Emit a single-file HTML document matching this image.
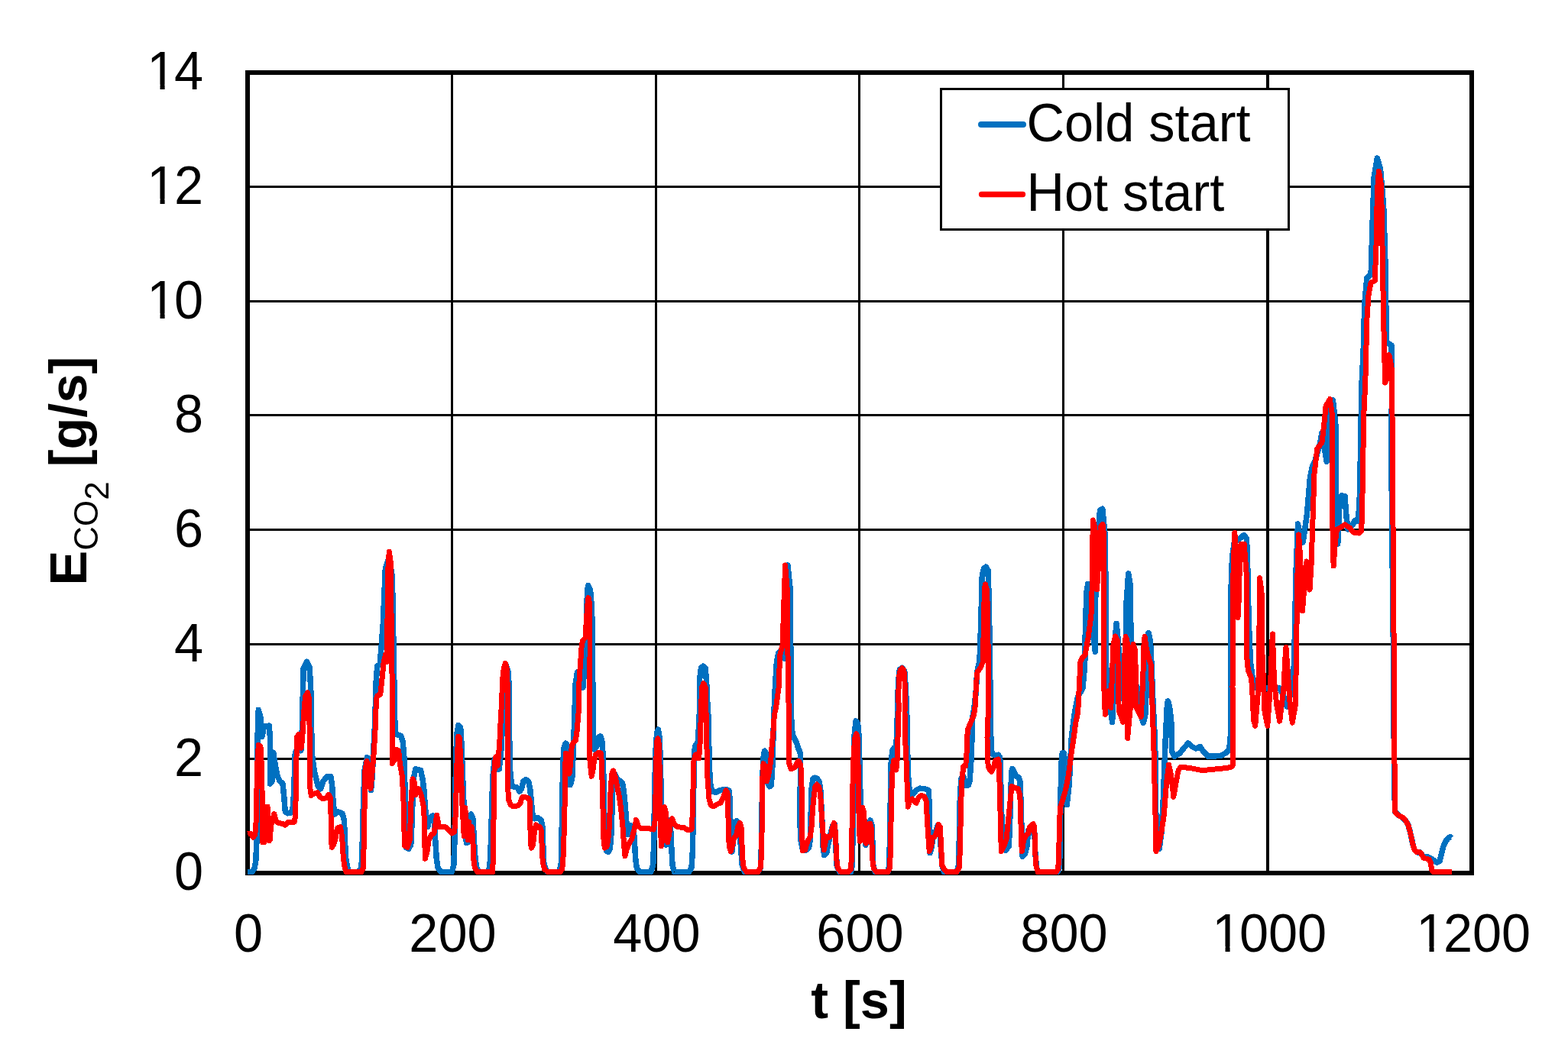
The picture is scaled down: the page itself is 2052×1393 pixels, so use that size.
<!DOCTYPE html>
<html><head><meta charset="utf-8"><title>CO2 emissions chart</title>
<style>html,body{margin:0;padding:0;background:#fff;overflow:hidden}svg{display:block}</style>
</head><body>
<svg width="2052" height="1393" viewBox="0 0 2052 1393"><rect width="2052" height="1393" fill="#fff"/><path d="M591.5,95.0 V1143.0 M858.5,95.0 V1143.0 M1124.5,95.0 V1143.0 M1391.5,95.0 V1143.0 M324.0,244.5 H1926.0 M324.0,394.5 H1926.0 M324.0,543.5 H1926.0 M324.0,693.5 H1926.0 M324.0,843.5 H1926.0 M324.0,993.5 H1926.0" stroke="#000" stroke-width="3" fill="none"/><path d="M1659,95.0 V1143.0" stroke="#000" stroke-width="4" fill="none"/><rect x="324.0" y="95.0" width="1602.0" height="1048.0" stroke="#000" stroke-width="6" fill="none"/><path d="M324.2,1141.5 L329.7,1141.5 L333.0,1136.8 L334.7,1127.7 L335.7,1107.7 L336.3,1082.7 L336.7,1049.3 L336.7,999.3 L337.0,966.0 L338.3,929.3 L341.0,939.3 L343.0,964.3 L345.5,951.0 L352.2,950.2 L353.5,966.0 L353.8,999.3 L353.5,1026.0 L356.0,1022.7 L357.7,985.2 L360.5,1002.7 L363.0,1016.0 L366.3,1022.7 L370.0,1026.0 L371.7,1042.7 L373.3,1062.7 L376.3,1064.8 L380.5,1064.0 L383.0,1059.3 L384.3,1042.7 L385.3,1016.0 L386.3,986.0 L389.7,979.3 L393.8,982.7 L395.0,966.0 L395.7,941.0 L396.0,921.7 L397.2,875.0 L401.3,866.3 L405.0,873.3 L406.7,900.0 L407.2,931.7 L407.7,957.7 L408.8,991.0 L411.3,1009.3 L416.3,1029.3 L419.7,1032.7 L423.0,1022.7 L428.0,1016.8 L433.0,1016.8 L434.7,1029.3 L436.3,1052.7 L438.0,1066.0 L442.2,1062.7 L448.0,1065.2 L450.5,1074.3 L451.3,1099.3 L453.0,1127.7 L456.3,1141.5 L468.0,1141.5 L472.2,1137.7 L473.8,1124.3 L474.7,1082.7 L475.5,1049.3 L477.2,1007.7 L480.5,991.8 L483.8,993.5 L485.5,1034.7 L487.2,1016.0 L488.8,982.7 L490.5,949.3 L491.3,924.3 L492.2,891.7 L493.8,871.7 L497.2,870.0 L498.8,850.0 L501.3,816.7 L503.0,775.0 L504.3,745.0 L508.0,733.3 L511.3,741.7 L513.3,755.0 L514.3,800.0 L515.0,850.0 L515.8,891.7 L516.3,932.2 L516.7,941.0 L517.2,961.0 L524.7,963.5 L527.2,971.0 L528.8,991.0 L529.7,1016.0 L530.0,1049.3 L530.0,1082.7 L531.0,1109.3 L534.7,1111.3 L537.7,1106.0 L538.8,1082.7 L540.0,1049.3 L541.3,1019.3 L543.8,1006.8 L550.5,1008.5 L553.0,1019.3 L554.7,1032.7 L557.2,1066.0 L559.7,1082.7 L562.2,1071.0 L566.3,1068.0 L568.8,1076.0 L569.7,1099.3 L571.3,1124.3 L573.0,1136.0 L577.2,1141.5 L591.3,1141.5 L593.8,1132.7 L595.0,1099.3 L595.7,1049.3 L596.7,991.0 L598.0,959.3 L600.0,949.3 L602.7,952.7 L604.0,974.3 L605.5,1016.0 L607.2,1057.7 L608.8,1091.0 L610.5,1103.5 L612.7,1102.7 L613.8,1074.3 L616.3,1066.0 L618.8,1071.0 L620.0,1091.0 L621.3,1116.0 L623.3,1134.3 L626.3,1141.5 L639.7,1141.5 L641.7,1124.3 L643.0,1082.7 L643.8,1049.3 L645.0,1016.0 L647.2,994.3 L650.5,1006.8 L650.5,1006.8 L653.3,1006.8 L655.8,982.7 L657.5,949.3 L658.7,926.0 L657.5,891.7 L661.3,868.7 L665.3,880.0 L666.2,900.0 L666.7,932.2 L666.7,966.0 L667.5,1007.7 L669.7,1029.3 L676.7,1031.0 L680.0,1036.0 L682.5,1032.7 L685.0,1022.7 L688.3,1020.7 L691.7,1023.5 L693.7,1032.7 L695.3,1049.3 L697.0,1066.0 L699.2,1071.8 L704.2,1070.7 L708.3,1074.3 L710.0,1082.7 L710.8,1107.7 L711.7,1129.3 L713.7,1137.7 L716.7,1141.5 L731.7,1141.5 L734.2,1132.7 L735.0,1099.3 L735.8,1049.3 L736.7,999.3 L738.3,977.7 L740.3,973.2 L742.5,976.0 L744.2,999.3 L746.3,1027.7 L748.7,1019.3 L750.0,991.0 L751.2,957.7 L752.2,926.0 L753.0,896.0 L755.5,880.0 L759.0,890.0 L763.0,900.0 L765.0,870.0 L766.5,850.0 L767.5,810.0 L768.5,775.0 L769.7,766.7 L772.5,772.0 L774.0,790.0 L775.0,812.0 L775.5,863.0 L776.2,940.0 L776.2,932.2 L776.3,966.0 L777.5,981.0 L780.8,977.7 L783.3,965.2 L785.8,964.0 L788.0,971.0 L789.3,991.0 L790.0,1024.3 L790.8,1066.0 L791.7,1099.3 L793.3,1113.5 L795.8,1115.5 L798.3,1111.0 L799.7,1096.0 L800.8,1066.0 L801.7,1032.7 L802.5,1011.0 L805.0,1014.3 L808.3,1021.0 L811.7,1022.3 L814.7,1026.0 L816.3,1036.0 L818.0,1052.7 L819.7,1074.3 L821.3,1092.7 L823.3,1091.0 L825.8,1081.0 L828.7,1082.7 L830.3,1099.3 L831.7,1124.3 L833.3,1136.0 L836.7,1141.5 L851.7,1141.5 L854.7,1132.7 L855.8,1099.3 L856.7,1032.7 L858.0,982.7 L859.7,959.3 L861.3,955.2 L863.3,966.0 L864.7,1016.0 L865.8,1066.0 L867.0,1086.0 L869.2,1101.0 L871.7,1106.0 L873.7,1104.3 L875.0,1082.7 L876.2,1073.5 L877.5,1082.7 L878.7,1107.7 L880.0,1132.7 L882.5,1141.5 L901.7,1141.5 L905.0,1136.0 L906.3,1116.0 L907.3,1066.0 L908.0,1016.0 L908.8,982.7 L910.3,975.7 L912.5,978.5 L913.7,966.0 L915.0,941.0 L915.8,924.3 L915.3,891.7 L917.5,874.2 L920.3,872.2 L923.3,875.0 L925.0,900.0 L926.3,932.2 L926.7,932.7 L927.5,966.0 L928.3,999.3 L929.3,1024.3 L931.7,1035.7 L936.7,1037.7 L941.7,1034.7 L950.0,1033.5 L954.2,1035.2 L955.3,1049.3 L956.0,1082.7 L956.7,1107.7 L958.0,1115.2 L959.7,1099.3 L961.3,1076.8 L964.2,1074.8 L966.7,1078.5 L968.3,1091.0 L969.7,1112.7 L971.3,1132.7 L974.2,1141.5 L992.0,1141.5 L992.0,1141.5 L995.3,1136.0 L996.2,1116.0 L997.0,1066.0 L997.8,1016.0 L999.5,986.0 L1000.8,983.2 L1002.3,986.0 L1003.3,999.3 L1005.0,1026.0 L1007.0,1029.7 L1009.0,1028.5 L1010.3,1016.0 L1011.3,991.0 L1012.0,960.0 L1013.8,909.7 L1016.4,866.6 L1019.0,854.5 L1023.0,852.0 L1026.8,862.0 L1028.5,800.0 L1029.0,745.0 L1031.0,740.0 L1034.0,770.0 L1034.8,850.0 L1035.0,940.0 L1035.7,941.0 L1037.0,961.0 L1039.5,966.5 L1042.3,971.8 L1045.0,980.2 L1047.3,986.0 L1047.8,1007.7 L1047.0,1041.0 L1046.7,1074.3 L1048.3,1102.7 L1050.7,1113.0 L1055.3,1113.0 L1058.7,1109.3 L1060.3,1099.3 L1061.2,1066.0 L1062.0,1032.7 L1064.0,1019.3 L1066.2,1018.2 L1069.5,1019.3 L1072.0,1023.5 L1073.7,1032.7 L1075.0,1057.7 L1076.2,1082.7 L1077.0,1107.7 L1078.7,1119.7 L1081.7,1116.8 L1083.7,1106.0 L1086.7,1092.7 L1089.5,1081.0 L1092.0,1078.5 L1093.3,1091.0 L1094.2,1116.0 L1095.3,1134.3 L1098.7,1141.5 L1113.7,1141.5 L1115.3,1132.7 L1116.2,1082.7 L1117.0,1016.0 L1117.8,966.0 L1120.0,944.0 L1122.5,946.8 L1123.7,957.7 L1124.5,982.7 L1125.3,1016.0 L1126.2,1049.3 L1127.3,1069.3 L1129.5,1076.0 L1131.5,1087.7 L1132.8,1106.3 L1135.0,1101.0 L1136.7,1079.3 L1139.0,1074.0 L1141.2,1081.0 L1142.0,1107.7 L1142.8,1132.7 L1145.3,1141.5 L1162.0,1141.5 L1163.7,1132.7 L1164.5,1099.3 L1165.3,1049.3 L1166.2,999.3 L1167.8,982.7 L1169.5,979.8 L1171.7,987.7 L1172.8,979.3 L1173.7,957.7 L1174.5,932.7 L1174.5,916.7 L1176.2,886.7 L1177.3,876.7 L1180.3,874.3 L1183.7,878.3 L1185.3,900.0 L1186.7,932.2 L1186.7,932.2 L1187.3,966.0 L1188.0,999.3 L1189.0,1024.3 L1191.2,1041.8 L1194.5,1040.2 L1198.7,1034.7 L1203.7,1032.2 L1210.3,1032.7 L1215.3,1034.7 L1216.2,1057.7 L1216.2,1091.0 L1217.0,1116.8 L1219.5,1107.7 L1221.2,1090.2 L1223.7,1092.7 L1227.0,1081.0 L1229.5,1082.7 L1231.2,1107.7 L1232.8,1132.7 L1235.3,1141.5 L1252.0,1141.5 L1254.5,1132.7 L1255.3,1099.3 L1256.2,1049.3 L1257.8,1019.3 L1260.7,1016.0 L1263.7,1028.0 L1267.3,1028.0 L1269.0,1022.7 L1270.7,999.3 L1272.0,966.0 L1272.8,939.3 L1274.0,931.8 L1275.3,922.7 L1277.0,908.3 L1278.7,880.0 L1282.0,865.0 L1283.7,816.7 L1285.3,753.3 L1287.8,743.7 L1290.3,742.2 L1293.0,746.7 L1294.2,783.3 L1295.0,833.3 L1295.7,883.3 L1296.2,932.2 L1296.2,932.2 L1296.5,957.7 L1297.5,982.7 L1299.5,987.7 L1302.8,989.3 L1306.2,988.2 L1308.7,991.8 L1309.5,1016.0 L1310.3,1049.3 L1311.2,1082.7 L1312.3,1107.7 L1316.2,1113.0 L1320.3,1107.7 L1322.0,1066.0 L1322.8,1032.7 L1324.0,1009.3 L1324.8,1006.5 L1327.3,1011.0 L1329.8,1016.0 L1333.2,1017.7 L1334.8,1022.7 L1335.7,1041.0 L1336.5,1066.0 L1337.3,1099.3 L1338.2,1121.3 L1341.5,1117.7 L1344.0,1107.7 L1345.7,1087.3 L1347.3,1091.0 L1351.5,1079.3 L1354.0,1091.0 L1354.8,1116.0 L1356.5,1136.0 L1359.0,1141.5 L1384.0,1141.5 L1386.5,1136.0 L1387.3,1099.3 L1388.2,1032.7 L1389.0,999.3 L1390.3,986.0 L1392.1,985.7 L1394.0,1000.0 L1395.7,1040.0 L1396.2,1053.7 L1399.3,1025.4 L1402.4,963.4 L1406.5,932.4 L1410.7,911.7 L1416.9,901.3 L1419.7,870.0 L1420.5,815.1 L1422.2,773.8 L1423.8,764.4 L1426.0,780.0 L1429.0,820.0 L1433.3,853.1 L1433.8,777.1 L1437.1,699.5 L1439.5,668.2 L1442.8,666.2 L1446.1,699.5 L1447.0,765.6 L1447.8,880.0 L1449.0,898.0 L1451.3,902.0 L1453.5,930.0 L1455.6,945.3 L1457.5,900.0 L1459.0,840.0 L1461.0,816.4 L1463.5,840.0 L1465.0,880.0 L1466.3,913.8 L1469.0,915.0 L1472.5,880.0 L1474.0,790.0 L1476.7,751.0 L1479.0,765.0 L1480.0,830.0 L1480.5,880.0 L1485.0,895.0 L1488.5,900.0 L1491.9,916.0 L1494.0,940.0 L1496.3,946.5 L1499.0,935.0 L1501.0,880.0 L1503.1,828.5 L1505.5,840.0 L1507.0,870.0 L1509.0,920.0 L1511.0,960.0 L1512.0,990.0 L1512.5,1050.0 L1513.5,1100.0 L1517.1,1111.6 L1520.0,1090.0 L1522.3,1046.1 L1525.4,963.4 L1527.5,922.0 L1528.5,917.9 L1530.5,925.0 L1532.7,942.7 L1533.7,984.0 L1536.8,990.3 L1543.8,986.3 L1548.8,980.0 L1555.0,973.0 L1560.0,977.5 L1565.0,980.0 L1570.6,977.5 L1575.0,984.0 L1580.7,990.0 L1587.5,990.0 L1597.5,989.5 L1603.8,986.0 L1608.8,981.0 L1610.6,960.0 L1611.2,767.5 L1612.5,730.0 L1615.0,711.2 L1622.5,705.0 L1628.0,700.4 L1631.2,705.0 L1632.5,723.7 L1633.1,767.5 L1634.4,817.5 L1636.5,867.0 L1640.6,898.1 L1645.0,901.3 L1660.0,901.0 L1675.0,901.0 L1680.0,912.0 L1684.0,925.0 L1688.0,912.0 L1692.3,901.0 L1694.0,850.0 L1696.0,750.0 L1698.5,686.0 L1701.0,700.0 L1705.2,709.9 L1710.3,673.9 L1714.5,624.7 L1717.6,610.2 L1720.7,604.0 L1726.9,583.4 L1730.0,566.8 L1733.0,585.0 L1736.2,604.5 L1739.3,542.0 L1744.4,524.0 L1748.6,562.7 L1748.6,645.4 L1749.6,686.7 L1750.7,712.0 L1752.7,666.1 L1755.8,649.1 L1760.0,649.5 L1762.0,676.4 L1764.1,692.9 L1770.3,686.7 L1773.4,681.2 L1777.5,682.6 L1779.6,645.4 L1780.6,583.4 L1781.7,521.3 L1782.7,480.0 L1783.7,478.0 L1785.8,396.7 L1788.9,363.7 L1794.1,359.5 L1796.1,293.4 L1798.2,231.3 L1802.3,207.2 L1806.5,221.0 L1810.6,268.6 L1812.7,334.7 L1813.7,396.7 L1814.7,448.4 L1817.8,450.0 L1821.0,452.0 L1821.5,480.0 L1821.0,600.0 L1821.5,685.0 L1823.0,800.0 L1824.5,1000.0 L1825.5,1062.7 L1831.0,1068.0 L1835.2,1070.1 L1839.5,1074.4 L1842.7,1079.7 L1844.8,1087.1 L1846.9,1095.6 L1849.1,1106.2 L1851.2,1112.6 L1854.4,1115.8 L1858.6,1115.8 L1860.7,1119.0 L1862.9,1122.0 L1869.2,1122.2 L1873.5,1124.3 L1877.7,1127.5 L1880.9,1129.1 L1884.1,1127.5 L1886.2,1119.0 L1888.4,1109.4 L1891.6,1102.0 L1894.8,1097.7 L1897.9,1095.6 L1899.5,1097.0" stroke="#0070C0" stroke-width="7.5" fill="none" stroke-linejoin="round" stroke-linecap="butt" shape-rendering="crispEdges"/><path d="M324.2,1091.8 L328.0,1091.0 L331.3,1096.0 L333.8,1092.7 L335.2,1074.3 L336.0,1032.7 L336.8,999.3 L338.3,975.2 L341.0,977.7 L342.2,999.3 L343.0,1032.7 L343.3,1066.0 L343.8,1102.7 L346.0,1102.7 L347.2,1076.0 L348.3,1056.0 L350.0,1056.0 L351.3,1082.7 L352.2,1101.0 L353.5,1099.3 L354.3,1082.7 L356.0,1076.0 L358.8,1065.5 L361.0,1074.3 L363.8,1077.3 L369.7,1078.5 L373.0,1080.2 L376.3,1076.8 L381.3,1076.8 L385.5,1076.0 L386.7,1066.0 L387.3,1032.7 L388.0,991.0 L388.8,964.3 L391.3,961.3 L393.3,971.0 L394.3,979.3 L395.7,966.0 L397.7,932.7 L399.7,911.0 L402.7,906.7 L404.7,916.0 L405.0,949.3 L405.3,999.3 L406.0,1032.7 L407.2,1041.3 L410.5,1039.3 L415.5,1037.7 L418.8,1043.5 L423.0,1046.0 L427.2,1044.3 L430.0,1040.2 L432.2,1044.3 L433.0,1066.0 L433.5,1099.3 L434.3,1109.3 L436.7,1106.0 L438.8,1099.3 L440.5,1087.7 L442.2,1083.5 L445.5,1082.7 L447.7,1096.0 L448.8,1116.0 L450.5,1132.7 L453.0,1141.5 L456.3,1141.5 L473.0,1141.5 L475.5,1136.0 L476.3,1099.3 L477.2,1049.3 L478.0,1007.7 L480.0,996.5 L482.2,1001.0 L483.8,1024.3 L485.0,1032.3 L486.7,1016.0 L488.8,991.0 L490.5,966.0 L491.8,941.0 L492.2,916.7 L493.8,910.8 L497.7,909.2 L499.7,891.7 L502.2,866.7 L504.7,856.7 L506.0,866.7 L507.2,800.0 L508.0,741.7 L509.3,722.2 L511.0,733.3 L511.8,783.3 L512.5,850.0 L513.3,900.0 L514.0,932.2 L513.0,941.0 L513.0,966.0 L513.3,999.7 L516.3,994.3 L518.8,981.5 L521.7,982.7 L523.3,999.3 L526.3,1016.0 L528.0,1049.3 L528.8,1082.7 L529.7,1107.7 L533.0,1109.3 L536.3,1099.3 L538.0,1049.3 L540.0,1019.8 L542.2,1024.3 L543.8,1041.0 L545.5,1032.7 L548.0,1032.7 L551.3,1041.0 L554.7,1057.7 L555.5,1082.7 L556.3,1124.3 L558.8,1116.0 L561.3,1099.3 L564.7,1092.7 L568.0,1091.0 L571.7,1067.3 L574.7,1082.7 L578.0,1082.7 L583.0,1082.7 L588.0,1087.7 L591.3,1091.0 L594.7,1089.3 L596.3,1066.0 L598.0,999.3 L599.7,964.3 L601.3,966.0 L603.0,999.3 L604.7,1049.3 L607.2,1094.3 L608.8,1057.7 L610.5,1082.7 L612.2,1099.3 L613.8,1076.0 L615.5,1099.3 L617.2,1082.7 L618.8,1099.3 L619.7,1124.3 L621.3,1136.0 L624.7,1141.5 L644.7,1141.5 L645.5,1116.0 L646.3,1049.3 L647.2,999.3 L648.8,991.0 L651.3,1002.7 L651.3,1002.7 L653.7,974.3 L655.3,941.0 L656.3,924.3 L656.7,916.7 L657.5,891.7 L659.2,875.0 L661.3,868.3 L663.3,875.0 L664.3,900.0 L664.7,932.2 L664.7,932.2 L664.7,966.0 L664.5,1007.7 L664.7,1032.7 L665.8,1047.7 L668.3,1053.5 L671.7,1056.0 L678.3,1054.7 L680.8,1051.8 L683.3,1043.5 L687.5,1043.5 L691.7,1045.2 L693.3,1049.3 L693.7,1066.0 L694.2,1099.3 L695.3,1110.2 L697.5,1106.0 L699.2,1091.0 L701.3,1079.8 L703.3,1082.7 L706.7,1082.7 L708.3,1087.7 L709.2,1107.7 L710.3,1129.3 L712.5,1137.7 L716.7,1141.5 L733.3,1141.5 L735.8,1137.7 L737.5,1116.0 L738.3,1082.7 L739.2,1049.3 L739.5,1016.0 L740.3,986.0 L742.0,987.7 L743.7,1006.0 L745.0,1013.0 L746.7,999.3 L748.3,976.0 L750.8,971.8 L753.3,969.3 L755.0,957.7 L756.7,937.7 L758.0,922.7 L757.4,902.0 L759.4,870.0 L761.3,844.0 L763.0,838.0 L766.0,835.0 L767.5,810.0 L769.0,790.0 L770.0,782.6 L771.5,790.0 L772.0,820.0 L772.0,860.0 L771.8,900.0 L771.7,940.0 L771.7,932.2 L771.3,966.0 L772.0,996.0 L774.2,1016.3 L775.8,1009.3 L777.5,996.0 L779.7,987.7 L783.3,985.2 L786.3,986.0 L787.5,999.3 L788.3,1032.7 L789.2,1066.0 L790.0,1099.3 L791.3,1110.2 L794.2,1108.5 L796.7,1092.7 L798.0,1066.0 L799.2,1032.7 L800.8,1012.7 L802.5,1009.0 L805.0,1016.0 L807.5,1029.3 L810.0,1041.0 L812.5,1057.7 L815.0,1082.7 L816.7,1107.7 L818.0,1121.0 L820.0,1112.7 L823.3,1104.3 L826.7,1098.5 L830.0,1086.0 L832.5,1073.5 L835.0,1081.0 L838.3,1084.3 L845.0,1084.3 L851.7,1085.2 L855.3,1086.0 L857.0,1076.0 L858.0,1041.0 L858.7,999.3 L859.7,971.0 L860.8,966.8 L862.5,974.3 L863.3,1016.0 L864.2,1066.0 L865.3,1107.7 L867.0,1097.7 L868.0,1074.3 L869.7,1056.8 L871.7,1066.0 L872.7,1091.0 L873.7,1102.7 L875.8,1091.0 L878.0,1074.3 L879.7,1071.8 L882.5,1079.3 L886.7,1082.7 L895.0,1083.5 L900.0,1086.8 L905.0,1086.0 L906.3,1066.0 L907.2,1024.3 L908.0,996.0 L910.0,988.0 L913.3,987.7 L914.7,992.7 L916.0,974.3 L917.2,941.0 L917.7,924.3 L917.7,932.2 L918.3,900.0 L920.8,894.7 L923.3,900.0 L924.0,932.2 L924.0,932.7 L924.7,966.0 L925.8,1016.0 L928.0,1046.0 L930.3,1054.3 L933.3,1056.0 L938.3,1053.0 L943.3,1051.0 L946.7,1043.5 L950.0,1034.8 L952.0,1037.7 L952.7,1057.7 L953.3,1082.7 L954.2,1107.7 L956.3,1114.7 L958.7,1106.0 L960.3,1097.7 L963.3,1094.3 L965.8,1082.7 L968.3,1077.3 L970.0,1082.7 L970.8,1099.3 L971.7,1124.3 L973.3,1136.0 L976.7,1141.5 L992.0,1141.5 L992.0,1141.5 L995.3,1136.0 L996.7,1116.0 L997.3,1066.0 L998.0,1016.0 L999.0,999.8 L1001.2,1002.7 L1003.3,1023.0 L1005.3,1016.0 L1007.0,1007.7 L1008.7,996.0 L1010.3,974.3 L1012.0,957.7 L1013.3,936.0 L1015.5,926.9 L1019.0,901.0 L1020.7,858.0 L1024.1,844.1 L1025.9,789.0 L1027.6,740.0 L1030.2,771.7 L1031.0,858.0 L1032.0,920.0 L1032.8,960.2 L1032.8,974.3 L1032.8,999.3 L1035.3,1006.8 L1040.3,1004.3 L1043.3,998.5 L1045.3,996.5 L1047.8,1001.0 L1048.7,1016.0 L1049.5,1049.3 L1049.5,1082.7 L1050.3,1113.5 L1053.7,1112.7 L1057.0,1101.0 L1060.3,1095.2 L1062.0,1082.7 L1063.7,1057.7 L1065.3,1041.0 L1067.0,1029.3 L1069.0,1027.0 L1072.0,1031.0 L1073.7,1041.0 L1075.3,1066.0 L1077.0,1091.0 L1078.2,1113.0 L1080.3,1102.7 L1082.0,1095.2 L1085.3,1096.0 L1087.8,1092.7 L1089.5,1082.7 L1091.5,1077.3 L1092.8,1082.7 L1093.7,1099.3 L1094.5,1116.0 L1095.3,1132.7 L1097.0,1137.7 L1100.3,1141.5 L1110.3,1141.5 L1113.7,1137.7 L1114.5,1116.0 L1115.3,1066.0 L1116.2,1016.0 L1117.0,991.0 L1118.7,966.0 L1120.7,960.7 L1122.3,966.0 L1123.0,999.3 L1123.5,1032.7 L1123.8,1057.7 L1124.5,1082.7 L1125.3,1101.3 L1127.0,1069.3 L1128.7,1057.3 L1130.3,1062.7 L1131.2,1074.3 L1132.0,1099.3 L1133.2,1104.3 L1134.5,1091.0 L1136.2,1080.2 L1138.7,1078.2 L1140.0,1082.7 L1140.7,1099.3 L1141.5,1116.0 L1142.3,1132.7 L1144.0,1138.0 L1147.0,1141.5 L1162.0,1141.5 L1164.5,1136.0 L1165.3,1116.0 L1166.2,1066.0 L1167.0,1032.7 L1167.8,1012.7 L1169.5,995.7 L1171.7,999.3 L1172.8,1008.0 L1174.0,996.0 L1175.0,966.0 L1175.7,941.0 L1176.2,926.0 L1175.7,908.3 L1177.0,883.3 L1178.3,877.0 L1180.3,874.7 L1182.8,877.0 L1184.0,891.7 L1184.2,916.7 L1184.0,932.2 L1184.0,932.2 L1184.5,966.0 L1186.2,999.3 L1187.3,1032.7 L1188.3,1056.3 L1190.3,1049.3 L1193.7,1046.0 L1196.7,1049.3 L1199.0,1051.3 L1201.7,1045.2 L1205.3,1041.5 L1209.5,1042.7 L1212.0,1047.7 L1213.0,1066.0 L1214.5,1091.0 L1216.2,1114.3 L1218.7,1107.7 L1220.3,1096.0 L1222.8,1096.0 L1225.3,1091.0 L1228.3,1079.3 L1230.3,1082.7 L1231.2,1099.3 L1232.0,1116.0 L1232.8,1132.7 L1235.3,1137.7 L1238.7,1141.5 L1252.0,1141.5 L1255.3,1136.0 L1256.2,1116.0 L1257.0,1082.7 L1257.8,1049.3 L1258.7,1024.3 L1260.7,1003.2 L1263.7,1002.7 L1265.3,982.7 L1266.2,956.0 L1270.3,946.0 L1274.5,936.0 L1276.2,924.3 L1276.7,916.7 L1277.3,896.7 L1279.0,880.0 L1283.7,873.3 L1286.2,866.7 L1287.5,816.7 L1288.3,771.7 L1289.5,765.0 L1291.7,773.3 L1292.7,816.7 L1293.3,866.7 L1293.7,932.2 L1293.3,932.2 L1292.0,966.0 L1292.3,996.0 L1294.0,1006.0 L1297.3,1010.2 L1300.7,1004.3 L1302.3,996.0 L1306.2,994.0 L1307.3,999.3 L1307.8,1016.0 L1308.7,1049.3 L1309.5,1082.7 L1310.3,1114.7 L1313.7,1107.7 L1317.0,1099.3 L1320.3,1066.0 L1324.0,1029.3 L1327.3,1031.0 L1332.3,1032.7 L1334.8,1041.0 L1335.7,1066.0 L1336.5,1099.3 L1337.3,1114.7 L1339.8,1099.3 L1342.3,1094.3 L1345.7,1091.0 L1347.3,1082.7 L1352.0,1078.7 L1353.7,1082.7 L1354.3,1099.3 L1354.8,1116.0 L1355.7,1132.7 L1358.2,1141.5 L1362.3,1141.5 L1382.3,1141.5 L1384.8,1137.7 L1385.7,1116.0 L1386.5,1082.7 L1387.3,1057.7 L1390.0,1050.0 L1394.1,1035.7 L1398.3,1015.0 L1402.4,984.0 L1405.5,963.4 L1407.6,946.8 L1410.7,932.4 L1412.5,895.0 L1414.0,866.0 L1417.0,860.0 L1420.0,858.0 L1424.0,835.0 L1428.0,805.0 L1429.5,760.0 L1430.0,700.0 L1430.5,681.0 L1432.5,690.0 L1434.0,740.0 L1435.5,772.0 L1437.5,740.0 L1439.0,700.0 L1441.0,688.0 L1443.0,686.4 L1444.5,700.0 L1444.6,800.0 L1444.8,900.0 L1446.3,935.3 L1448.1,907.5 L1450.0,905.0 L1453.8,926.5 L1456.9,845.0 L1459.4,833.0 L1462.5,838.8 L1463.1,870.0 L1463.8,920.0 L1465.0,932.5 L1467.5,938.8 L1469.4,945.3 L1471.3,920.0 L1471.9,857.5 L1473.1,833.5 L1475.0,838.8 L1475.6,870.0 L1475.9,920.0 L1475.6,966.5 L1477.5,945.0 L1480.0,920.0 L1481.3,882.5 L1481.9,851.3 L1483.1,843.5 L1485.6,851.3 L1486.3,882.5 L1486.9,926.3 L1488.8,930.0 L1491.3,935.0 L1493.1,938.4 L1495.6,895.0 L1496.9,845.0 L1498.1,833.5 L1500.6,851.3 L1503.8,862.5 L1506.3,870.0 L1507.5,907.5 L1508.8,945.0 L1510.0,982.5 L1510.6,994.0 L1510.5,1004.7 L1512.0,1066.7 L1513.0,1114.7 L1516.1,1108.1 L1520.2,1087.4 L1523.3,1066.7 L1526.5,1025.4 L1529.6,1001.2 L1532.7,1015.0 L1535.8,1043.4 L1538.9,1025.4 L1542.0,1008.9 L1545.0,1004.0 L1560.0,1006.0 L1570.0,1008.0 L1580.0,1008.0 L1590.0,1007.0 L1600.0,1006.0 L1610.0,1004.7 L1613.0,1003.0 L1613.0,900.0 L1614.0,750.0 L1615.8,697.5 L1618.0,730.0 L1619.0,780.0 L1620.0,808.6 L1621.5,780.0 L1622.5,730.0 L1624.0,712.0 L1628.2,712.0 L1631.3,753.0 L1631.3,815.0 L1631.3,856.7 L1633.4,877.4 L1637.5,887.7 L1638.6,901.3 L1640.6,942.7 L1642.7,950.3 L1646.8,901.3 L1648.0,820.0 L1648.5,756.7 L1651.0,774.0 L1652.0,856.7 L1655.1,932.4 L1658.8,950.3 L1662.3,901.3 L1664.4,850.0 L1665.4,830.0 L1667.5,891.0 L1670.6,922.0 L1674.7,944.1 L1679.9,901.3 L1682.0,860.0 L1683.0,847.6 L1686.1,891.0 L1688.2,922.0 L1691.3,946.2 L1695.4,922.0 L1696.4,860.0 L1698.0,750.0 L1699.6,700.0 L1701.0,720.0 L1703.0,780.0 L1704.5,800.0 L1706.0,780.0 L1708.0,745.0 L1710.0,735.0 L1712.0,765.0 L1714.0,772.0 L1716.0,740.0 L1718.0,680.0 L1720.0,620.0 L1723.8,587.5 L1730.0,579.2 L1733.1,552.4 L1735.1,531.7 L1740.3,522.6 L1743.0,540.0 L1743.4,624.7 L1743.8,686.7 L1745.1,740.9 L1747.6,707.4 L1749.6,692.9 L1753.8,690.9 L1760.0,686.7 L1766.2,690.9 L1771.3,697.1 L1778.6,698.1 L1781.7,695.0 L1782.7,666.1 L1783.7,604.0 L1784.8,542.0 L1786.8,500.7 L1788.9,417.4 L1791.0,386.4 L1794.1,369.9 L1799.2,367.8 L1801.3,314.0 L1802.3,252.0 L1804.4,224.3 L1807.5,241.7 L1808.5,293.4 L1809.6,355.4 L1810.6,417.4 L1811.6,458.8 L1812.7,501.1 L1816.8,492.4 L1817.8,464.6 L1821.0,480.0 L1822.0,542.0 L1822.4,624.7 L1823.0,686.7 L1823.6,768.0 L1824.5,900.0 L1825.0,1000.0 L1825.5,1062.7 L1831.0,1068.0 L1835.2,1070.1 L1839.5,1074.4 L1842.7,1079.7 L1844.8,1087.1 L1846.9,1095.6 L1849.1,1106.2 L1851.2,1112.6 L1854.4,1115.8 L1858.6,1115.8 L1860.7,1119.0 L1862.9,1123.2 L1867.1,1124.3 L1870.3,1125.2 L1872.4,1129.6 L1873.5,1138.1 L1875.6,1141.5 L1880.9,1141.5 L1886.2,1141.5 L1896.9,1141.5 L1900.0,1141.5" stroke="#FF0000" stroke-width="7" fill="none" stroke-linejoin="round" stroke-linecap="butt" shape-rendering="crispEdges"/><text transform="translate(227.90,1165.3) scale(1,1.035)" style="font-family:'Liberation Sans',Arial,sans-serif;font-size:68.5px">0</text><text transform="translate(227.90,1015.8) scale(1,1.035)" style="font-family:'Liberation Sans',Arial,sans-serif;font-size:68.5px">2</text><text transform="translate(227.90,865.8) scale(1,1.035)" style="font-family:'Liberation Sans',Arial,sans-serif;font-size:68.5px">4</text><text transform="translate(227.90,715.8) scale(1,1.035)" style="font-family:'Liberation Sans',Arial,sans-serif;font-size:68.5px">6</text><text transform="translate(227.90,565.8) scale(1,1.035)" style="font-family:'Liberation Sans',Arial,sans-serif;font-size:68.5px">8</text><text transform="translate(189.81,416.8) scale(1,1.035)" style="font-family:'Liberation Sans',Arial,sans-serif;font-size:68.5px"><tspan dx="2.5">1</tspan><tspan dx="-2.5">0</tspan></text><text transform="translate(189.81,266.8) scale(1,1.035)" style="font-family:'Liberation Sans',Arial,sans-serif;font-size:68.5px"><tspan dx="2.5">1</tspan><tspan dx="-2.5">2</tspan></text><text transform="translate(189.81,117.3) scale(1,1.035)" style="font-family:'Liberation Sans',Arial,sans-serif;font-size:68.5px"><tspan dx="2.5">1</tspan><tspan dx="-2.5">4</tspan></text><text transform="translate(305.95,1245.6) scale(1,1.035)" style="font-family:'Liberation Sans',Arial,sans-serif;font-size:68.5px">0</text><text transform="translate(535.36,1245.6) scale(1,1.035)" style="font-family:'Liberation Sans',Arial,sans-serif;font-size:68.5px">200</text><text transform="translate(802.36,1245.6) scale(1,1.035)" style="font-family:'Liberation Sans',Arial,sans-serif;font-size:68.5px">400</text><text transform="translate(1068.36,1245.6) scale(1,1.035)" style="font-family:'Liberation Sans',Arial,sans-serif;font-size:68.5px">600</text><text transform="translate(1335.36,1245.6) scale(1,1.035)" style="font-family:'Liberation Sans',Arial,sans-serif;font-size:68.5px">800</text><text transform="translate(1583.81,1245.6) scale(1,1.035)" style="font-family:'Liberation Sans',Arial,sans-serif;font-size:68.5px"><tspan dx="2.5">1</tspan><tspan dx="-2.5">0</tspan>00</text><text transform="translate(1850.81,1245.6) scale(1,1.035)" style="font-family:'Liberation Sans',Arial,sans-serif;font-size:68.5px"><tspan dx="2.5">1</tspan><tspan dx="-2.5">2</tspan>00</text><path d="M196.92,410.30 H209.53 V417.60 H196.92 Z M215.59,410.30 H227.66 V417.60 H215.59 Z M196.92,260.30 H209.53 V267.60 H196.92 Z M215.59,260.30 H227.66 V267.60 H215.59 Z M196.92,110.80 H209.53 V118.10 H196.92 Z M215.59,110.80 H227.66 V118.10 H215.59 Z M1590.92,1239.10 H1603.53 V1246.40 H1590.92 Z M1609.59,1239.10 H1621.66 V1246.40 H1609.59 Z M1857.92,1239.10 H1870.53 V1246.40 H1857.92 Z M1876.59,1239.10 H1888.66 V1246.40 H1876.59 Z" fill="#fff"/><rect x="1231.5" y="116.5" width="455" height="184" fill="#fff" stroke="#000" stroke-width="3"/><path d="M1284,163 H1339" stroke="#0070C0" stroke-width="8" stroke-linecap="round"/><path d="M1284.5,254.5 H1338.5" stroke="#FF0000" stroke-width="7.3" stroke-linecap="round"/><text transform="translate(1343.5,184.6) scale(1,1.02)" style="font-family:'Liberation Sans',Arial,sans-serif;font-size:68.5px">Cold start</text><text transform="translate(1343.5,276.2) scale(1,1.03)" style="font-family:'Liberation Sans',Arial,sans-serif;font-size:68.5px">Hot start</text><text x="1124" y="1333" text-anchor="middle" style="font-family:'Liberation Sans',Arial,sans-serif;font-size:68.5px;font-weight:bold">t [s]</text><g transform="translate(113,766.5) rotate(-90)"><text x="0" y="0" style="font-family:'Liberation Sans',Arial,sans-serif;font-size:68.5px"><tspan font-weight="bold">E</tspan><tspan font-size="44px" dy="15">CO</tspan><tspan font-size="44px" dy="14">2</tspan><tspan font-weight="bold" dy="-29"> [g/s]</tspan></text></g></svg>
</body></html>
